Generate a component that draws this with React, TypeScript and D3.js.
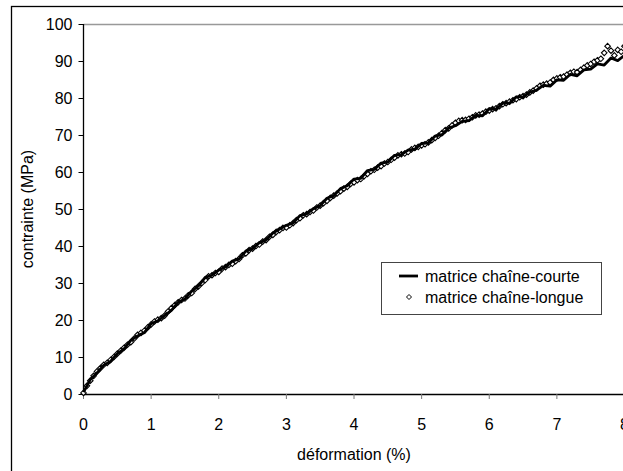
import React from "react";
import * as d3 from "d3";

const xTicks = [0, 1, 2, 3, 4, 5, 6, 7, 8];
const yTicks = [0, 10, 20, 30, 40, 50, 60, 70, 80, 90, 100];

// matrice chaîne-courte : strain step 0.1 %
const shortStep = 0.1;
const shortChain = [
  0.5, 3.9, 5.7, 7.8, 8.8, 10.9, 12.2, 14.5, 15.7, 16.6,
  19.0, 19.8, 21.2, 22.6, 24.8, 25.7, 27.8, 29.2, 31.5, 32.1,
  33.5, 34.3, 35.9, 36.5, 38.6, 39.3, 40.9, 41.6, 43.5, 44.6,
  45.6, 46.2, 48.2, 48.7, 50.1, 50.9, 52.9, 53.6, 55.5, 56.3,
  58.1, 58.3, 60.4, 60.7, 62.4, 62.7, 64.5, 64.7, 65.9, 66.2,
  67.7, 67.9, 69.7, 70.1, 71.9, 72.5, 73.7, 73.9, 75.3, 75.2,
  77.1, 77.0, 78.6, 78.6, 80.3, 80.3, 81.6, 82.1, 83.4, 83.2,
  84.9, 84.8, 86.4, 86.0, 87.6, 87.8, 89.2, 88.9, 90.8, 90.1,
  91.5,
];

// matrice chaîne-longue : strain step 0.05 %
const longStep = 0.05;
const longChain = [
  0.3, 2.2, 3.6, 4.9, 6.1, 7.0, 7.9, 8.4, 9.2, 10.0,
  10.9, 11.7, 12.5, 13.3, 14.0, 15.0, 16.0, 16.5, 17.1, 18.0,
  18.8, 19.6, 20.1, 20.5, 21.2, 22.3, 23.2, 24.0, 24.8, 25.4,
  25.8, 26.7, 27.3, 28.4, 29.1, 30.0, 30.8, 31.8, 32.1, 32.7,
  33.0, 33.9, 34.3, 34.9, 35.2, 35.9, 36.5, 37.5, 38.0, 38.9,
  39.3, 40.0, 40.4, 41.2, 41.6, 42.5, 43.0, 43.8, 44.3, 44.9,
  45.0, 45.6, 46.2, 47.0, 47.5, 48.3, 48.6, 49.2, 49.6, 50.4,
  50.9, 51.6, 52.2, 53.0, 53.6, 54.2, 54.8, 55.5, 56.0, 56.8,
  57.2, 57.8, 58.1, 58.9, 59.5, 60.2, 60.6, 61.2, 61.6, 62.3,
  62.7, 63.3, 63.9, 64.5, 64.8, 65.0, 65.4, 66.1, 66.5, 66.8,
  67.2, 67.5, 68.0, 68.6, 69.2, 69.8, 70.5, 71.3, 71.8, 72.6,
  73.3, 73.8, 74.0, 74.1, 74.4, 74.8, 75.3, 75.5, 75.8, 76.3,
  76.6, 77.0, 77.2, 77.8, 78.3, 78.6, 79.0, 79.4, 79.7, 80.2,
  80.5, 80.9, 81.5, 82.0, 82.6, 83.3, 83.6, 83.9, 84.2, 84.9,
  85.3, 85.6, 85.8, 86.3, 86.8, 87.1, 87.0, 87.6, 88.2, 88.8,
  89.2, 89.8, 90.2, 90.6, 92.2, 94.0, 92.8, 91.5, 93.0, 92.5,
  94.0,
];

const legendLabels = ["matrice chaîne-courte", "matrice chaîne-longue"];
const xLabel = "déformation (%)";
const yLabel = "contrainte (MPa)";

const W = 623;
const H = 471;
const FONT = "Arial, 'Liberation Sans', sans-serif";
const FS = 16;

export default function App() {
  const x = d3.scaleLinear().domain([0, 8]).range([83.5, 624.5]);
  const y = d3.scaleLinear().domain([0, 100]).range([394, 24]);

  const shortPts: [number, number][] = shortChain.map((v, i) => [i * shortStep, v]);
  const longPts: [number, number][] = longChain.map((v, i) => [i * longStep, v]);

  const line = d3
    .line<[number, number]>()
    .x((d) => x(d[0]))
    .y((d) => y(d[1]));

  const diamond = (cx: number, cy: number, r: number) =>
    `M${cx},${cy - r}L${cx + r},${cy}L${cx},${cy + r}L${cx - r},${cy}Z`;

  const x0 = x(0);
  const y0 = y(0);

  return (
    <svg
      width={W}
      height={H}
      style={{ position: "absolute", left: 0, top: 0, background: "#fff" }}
      fontFamily={FONT}
    >
      <rect x={0} y={0} width={W} height={H} fill="#fff" />
      {/* outer chart frame */}
      <rect x={11.5} y={6.5} width={700} height={600} fill="none" stroke="#000" strokeWidth={1.3} />

      {/* top gridline */}
      <line x1={x0} x2={W} y1={y(100) + 0.5} y2={y(100) + 0.5} stroke="#999" strokeWidth={1.3} />

      {/* y axis */}
      <line x1={x0} x2={x0} y1={y(100)} y2={y0} stroke="#000" strokeWidth={1.3} />
      {yTicks.map((t) => (
        <g key={"y" + t}>
          <line x1={x0 - 5} x2={x0} y1={y(t) + 0.5} y2={y(t) + 0.5} stroke="#000" strokeWidth={1} />
          <text x={x0 - 11} y={y(t) + 5.5} textAnchor="end" fontSize={FS} fill="#000">
            {t}
          </text>
        </g>
      ))}

      {/* x axis */}
      <line x1={x0} x2={W} y1={y0 + 0.5} y2={y0 + 0.5} stroke="#000" strokeWidth={1.3} />
      {xTicks.map((t) => (
        <g key={"x" + t}>
          <line x1={x(t)} x2={x(t)} y1={y0} y2={y0 + 5} stroke="#777" strokeWidth={1} />
          <text x={x(t)} y={430} textAnchor="middle" fontSize={FS} fill="#000">
            {t}
          </text>
        </g>
      ))}

      {/* axis titles */}
      <text x={354} y={460} textAnchor="middle" fontSize={FS} fill="#000">
        {xLabel}
      </text>
      <text
        transform={`translate(33, ${(y(100) + y0) / 2}) rotate(-90)`}
        textAnchor="middle"
        fontSize={FS}
        fill="#000"
      >
        {yLabel}
      </text>

      {/* data */}
      <g>
        {longPts.map((d, i) => (
          <path
            key={"d" + i}
            d={diamond(x(d[0]), y(d[1]), 2.8)}
            fill="#fff"
            stroke="#000"
            strokeWidth={1.1}
          />
        ))}
      </g>
      <path d={line(shortPts) || ""} fill="none" stroke="#000" strokeWidth={2.8} strokeLinejoin="round" />

      {/* legend */}
      <rect x={381.5} y={262.5} width={220} height={52} fill="#fff" stroke="#444" strokeWidth={1} />
      <line x1={399} x2={418} y1={276} y2={276} stroke="#000" strokeWidth={2.8} />
      <text x={425} y={282} fontSize={FS} fill="#000">
        {legendLabels[0]}
      </text>
      <path d={diamond(409, 297, 2.5)} fill="#fff" stroke="#000" strokeWidth={1} />
      <text x={425} y={303} fontSize={FS} fill="#000">
        {legendLabels[1]}
      </text>
    </svg>
  );
}
